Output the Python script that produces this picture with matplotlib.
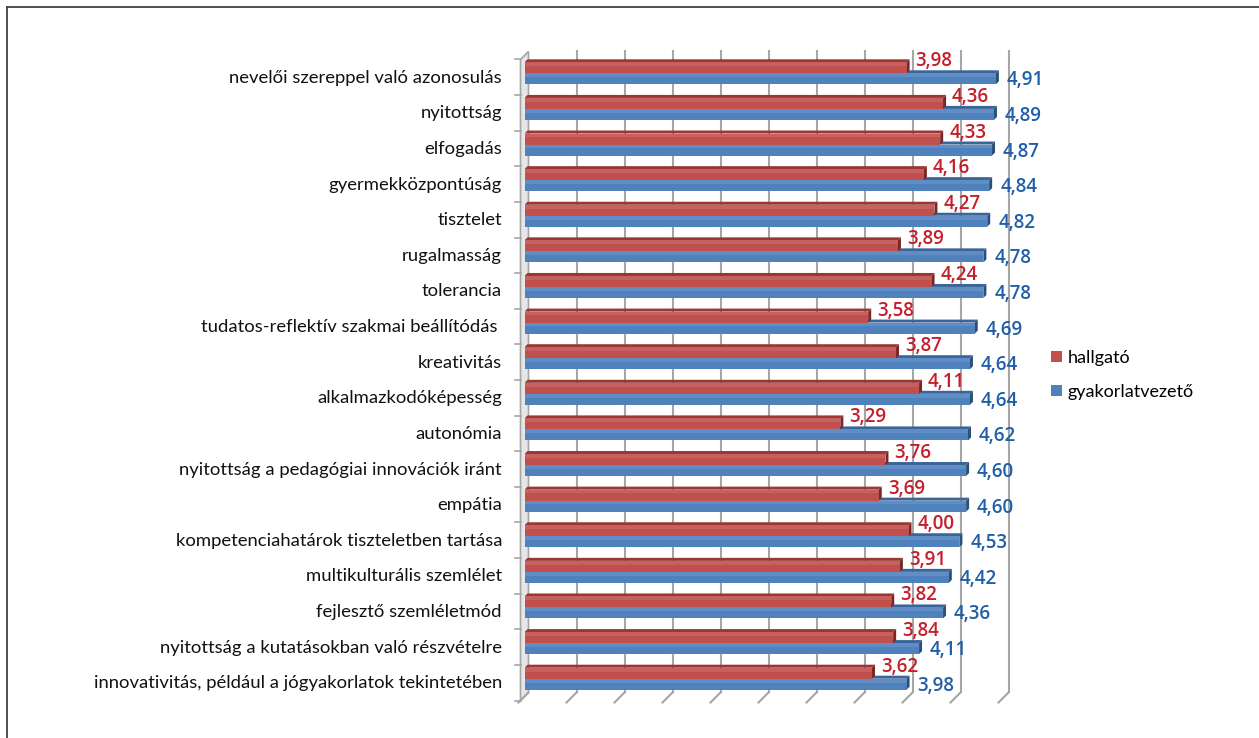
import matplotlib.pyplot as plt
from matplotlib.patches import Polygon, Rectangle, Patch
from matplotlib.lines import Line2D

# kategóriák fentről lefelé
categories = [
    "nevelői szereppel való azonosulás",
    "nyitottság",
    "elfogadás",
    "gyermekközpontúság",
    "tisztelet",
    "rugalmasság",
    "tolerancia",
    "tudatos-reflektív szakmai beállítódás ",
    "kreativitás",
    "alkalmazkodóképesség",
    "autonómia",
    "nyitottság a pedagógiai innovációk iránt",
    "empátia",
    "kompetenciahatárok tiszteletben tartása",
    "multikulturális szemlélet",
    "fejlesztő szemléletmód",
    "nyitottság a kutatásokban való részvételre",
    "innovativitás, például a jógyakorlatok tekintetében",
]
hallgato = [3.98, 4.36, 4.33, 4.16, 4.27, 3.89, 4.24, 3.58, 3.87,
            4.11, 3.29, 3.76, 3.69, 4.00, 3.91, 3.82, 3.84, 3.62]
gyakorlatvezeto = [4.91, 4.89, 4.87, 4.84, 4.82, 4.78, 4.78, 4.69, 4.64,
                   4.64, 4.62, 4.60, 4.60, 4.53, 4.42, 4.36, 4.11, 3.98]
series_names = ["hallgató", "gyakorlatvezető"]

W, H = 1259, 738
fig = plt.figure(figsize=(W / 100, H / 100), dpi=100)
fig.patch.set_facecolor("white")

# plot area in pixels (middle depth plane)
x0, x1 = 524.5, 1004.5
y_top, y_bot = 55.5, 696.5
ax = fig.add_axes([x0 / W, 1 - y_bot / H, (x1 - x0) / W, (y_bot - y_top) / H])
xmax = 5.0
n = len(categories)
ax.set_xlim(0, xmax)
ax.set_ylim(n - 0.5, -0.5)
ax.axis("off")

sx = (x1 - x0) / xmax          # px per unit
sy = (y_bot - y_top) / n       # px per band

def px2dx(p):
    return p / sx

def px2dy(p):
    return p / sy

# 3D depth of walls and bars
wall_d = 4.0   # px from middle plane to back/front
bar_d = 3.0

grid_col = "#a6a6a6"

# left wall
wall = Polygon([(-px2dx(wall_d), -0.5 + px2dy(wall_d)),
                (px2dx(wall_d), -0.5 - px2dy(wall_d)),
                (px2dx(wall_d), n - 0.5 - px2dy(wall_d)),
                (-px2dx(wall_d), n - 0.5 + px2dy(wall_d))],
               closed=True, facecolor="#e6e6e6", edgecolor=grid_col,
               linewidth=1.2, clip_on=False, zorder=1)
ax.add_patch(wall)
for k in range(n + 1):
    yb = k - 0.5 + px2dy(wall_d)
    ax.plot([-px2dx(wall_d) - px2dx(6), -px2dx(wall_d)], [yb, yb],
            color=grid_col, lw=1.2, clip_on=False, zorder=1)

# vertical gridlines on the back wall, slanted ticks on the floor
for k in range(1, 11):
    gx = k * 0.5
    ax.plot([gx + px2dx(wall_d), gx + px2dx(wall_d)],
            [-0.5 - px2dy(wall_d), n - 0.5 - px2dy(wall_d)],
            color=grid_col, lw=1.5, clip_on=False, zorder=1)
    ax.plot([gx + px2dx(wall_d), gx - px2dx(wall_d) - px2dx(2)],
            [n - 0.5 - px2dy(wall_d), n - 0.5 + px2dy(wall_d) + px2dy(2)],
            color=grid_col, lw=1.5, clip_on=False, zorder=1)
ax.plot([px2dx(wall_d), -px2dx(wall_d) - px2dx(2)],
        [n - 0.5 - px2dy(wall_d), n - 0.5 + px2dy(wall_d) + px2dy(2)],
        color=grid_col, lw=1.5, clip_on=False, zorder=1)

bar_h = px2dy(11)
dx, dy = px2dx(bar_d), px2dy(bar_d)

def bar3d(v, ytop, front, top, side, z):
    ybot = ytop + bar_h
    ax.add_patch(Polygon([(0, ytop), (v, ytop), (v + dx, ytop - dy), (dx, ytop - dy)],
                         closed=True, facecolor=top, edgecolor="none", zorder=z))
    ax.add_patch(Polygon([(v, ytop), (v + dx, ytop - dy), (v + dx, ybot - dy), (v, ybot)],
                         closed=True, facecolor=side, edgecolor="none", zorder=z))
    ax.add_patch(Rectangle((0, ytop), v, bar_h, facecolor=front,
                           edgecolor="none", zorder=z + 0.1))
    # light highlight along the top of the front face
    ax.add_patch(Rectangle((0, ytop), v, bar_h * 0.35, facecolor="white",
                           alpha=0.10, edgecolor="none", zorder=z + 0.2))

red_front, red_top, red_side = "#c0504d", "#9a3734", "#7a2624"
blue_front, blue_top, blue_side = "#4f81bd", "#3a659a", "#2b4f78"

for i in range(n):
    yr = i - bar_h
    yb = i
    bar3d(gyakorlatvezeto[i], yb, blue_front, blue_top, blue_side, 3)
    bar3d(hallgato[i], yr, red_front, red_top, red_side, 4)

    ax.text(hallgato[i] + px2dx(9), yr - px2dy(1), f"{hallgato[i]:.2f}".replace(".", ","),
            color="#c41e2a", fontsize=13.5, family="Open Sans", fontweight="semibold",
            ha="left", va="center", zorder=6)
    ax.text(gyakorlatvezeto[i] + px2dx(11), i + px2dy(7), f"{gyakorlatvezeto[i]:.2f}".replace(".", ","),
            color="#1f5ea8", fontsize=13.5, family="Open Sans", fontweight="semibold",
            ha="left", va="center", zorder=6)

    ax.text(-px2dx(22.5), i + px2dy(4.5), categories[i], color="#111111",
            fontsize=13.3, family="Lato", ha="right", va="center", clip_on=False)

# legend
handles = [Patch(facecolor=red_front, edgecolor="none"),
           Patch(facecolor=blue_front, edgecolor="none")]
fig.legend(handles, series_names, loc="center left",
           bbox_to_anchor=(1035 / W, 1 - 375 / H), frameon=False,
           handlelength=0.6, handleheight=0.6, handletextpad=0.3,
           labelspacing=1.0, prop={"family": "Lato", "size": 13})

# frame around the figure (only top and left edges fall inside the image)
fig.add_artist(Line2D([7 / W, 7 / W], [0, 1 - 7 / H], color="#404040", lw=1.3))
fig.add_artist(Line2D([7 / W, 1], [1 - 7 / H, 1 - 7 / H], color="#404040", lw=1.3))

fig.savefig("out.png", dpi=100)
